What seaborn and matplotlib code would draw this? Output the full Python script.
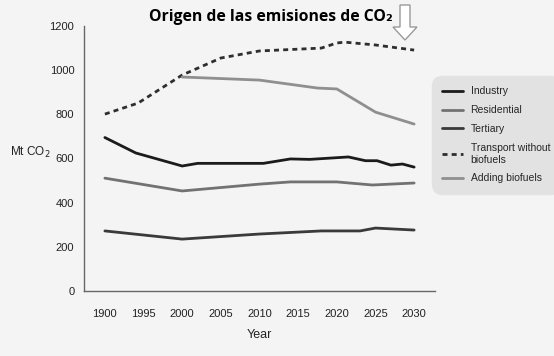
import pandas as pd
import matplotlib.pyplot as plt
import matplotlib.patches as mpatches
import seaborn as sns

# values (Mt CO2)
industry_years = [1990, 1994, 2000, 2002, 2010.5, 2014, 2016.5, 2021.5, 2023.7, 2025.2, 2027, 2028.5, 2030]
industry = [695, 625, 566, 578, 578, 598, 596, 607, 590, 590, 570, 575, 561]

residential_years = [1990, 2000, 2010, 2014, 2020, 2024.6, 2030]
residential = [511, 453, 484, 494, 494, 480, 489]

tertiary_years = [1990, 2000, 2010, 2018, 2023, 2025, 2030]
tertiary = [272, 235, 258, 272, 272, 285, 276]

transport_years = [1990, 1994.3, 2000, 2005, 2010, 2018, 2020, 2021, 2025, 2030]
transport = [801, 851, 978, 1055, 1087, 1100, 1123, 1127, 1114, 1091]

biofuel_years = [2000, 2010, 2017.5, 2020, 2025, 2030]
biofuels = [969, 955, 919, 915, 810, 756]

tick_years = [1990, 1995, 2000, 2005, 2010, 2015, 2020, 2025, 2030]
tick_labels = ["1900", "1995", "2000", "2005", "2010", "2015", "2020", "2025", "2030"]
y_ticks = [0, 200, 400, 600, 800, 1000, 1200]

names = ["Industry", "Residential", "Tertiary", "Transport without\nbiofuels", "Adding biofuels"]
series = [(industry_years, industry), (residential_years, residential),
          (tertiary_years, tertiary), (transport_years, transport),
          (biofuel_years, biofuels)]

rows = []
for name, (yrs, vals) in zip(names, series):
    for x, v in zip(yrs, vals):
        rows.append({"Year": x, "Mt": v, "Sector": name})
df = pd.DataFrame(rows)

colors = {
    names[0]: "#1b1b1b",
    names[1]: "#727272",
    names[2]: "#3a3a3a",
    names[3]: "#2e2e2e",
    names[4]: "#8f8f8f",
}
dashes = {names[0]: "", names[1]: "", names[2]: "", names[3]: (1.8, 1.5), names[4]: ""}

sns.set_style("white")
narrow = ["Liberation Sans", "DejaVu Sans"]
bg = "#f4f4f4"

fig = plt.figure(figsize=(5.54, 3.56), dpi=100, facecolor=bg)
ax = fig.add_axes([84 / 554, 1 - 291 / 356, (435 - 84) / 554, (291 - 26) / 356])
ax.set_facecolor(bg)

sns.lineplot(data=df, x="Year", y="Mt", hue="Sector", style="Sector",
             hue_order=names, style_order=names, palette=colors, dashes=dashes,
             linewidth=2.0, estimator=None, sort=False, ax=ax, legend=True)

ax.set_xlim(1987.3, 2032.7)
ax.set_ylim(0, 1200)
ax.set_yticks(y_ticks)
ax.set_yticklabels([str(t) for t in y_ticks], family=narrow, fontsize=8, color="#222222")
ax.set_xticks(tick_years)
ax.set_xticklabels(tick_labels, family=narrow, fontsize=8, color="#222222")
ax.set_xticks([t - 2.5 for t in tick_years] + [2032.5], minor=True)
ax.tick_params(axis="x", which="major", length=0, pad=13)
ax.tick_params(axis="x", which="minor", length=5, width=1, color="#666666", direction="out")
ax.tick_params(axis="y", length=4, width=1, color="#666666", direction="out", pad=3)
for side in ["top", "right"]:
    ax.spines[side].set_visible(False)
for side in ["left", "bottom"]:
    ax.spines[side].set_color("#666666")
    ax.spines[side].set_linewidth(1)

ax.set_xlabel("Year", family=narrow, fontsize=9, color="#222222", labelpad=7)
ax.set_ylabel("")
fig.text(30 / 554, 1 - 152 / 356, "Mt CO$_2$", family=narrow, fontsize=8.5,
         color="#222222", ha="center", va="center")

fig.text(271 / 554, 1 - 17 / 356, "Origen de las emisiones de CO₂",
         family=["Open Sans", "DejaVu Sans"], fontweight="bold", fontsize=11.3,
         ha="center", va="center", color="black")

# decorative down arrow near the top right
arrow = mpatches.FancyArrow(405 / 554, 1 - 5 / 356, 0, -35 / 356, width=10 / 554,
                            head_width=24 / 554, head_length=13 / 356,
                            length_includes_head=True, transform=fig.transFigure,
                            facecolor="white", edgecolor="#9a9a9a", linewidth=1)
fig.patches.append(arrow)

handles, labels = ax.get_legend_handles_labels()
leg = fig.legend(handles, labels, loc="upper left",
                 bbox_to_anchor=(432 / 554, 1 - 76 / 356),
                 prop={"family": narrow, "size": 7.5}, frameon=True, fancybox=True,
                 facecolor="#e2e2e2", edgecolor="#e2e2e2", framealpha=1,
                 handlelength=2.0, handletextpad=0.7, labelspacing=0.85,
                 borderpad=1.0, borderaxespad=0)
leg.get_frame().set_boxstyle("round", pad=0, rounding_size=1.0)
ax.get_legend().remove()

fig.savefig("out.png", dpi=100, facecolor=bg)
